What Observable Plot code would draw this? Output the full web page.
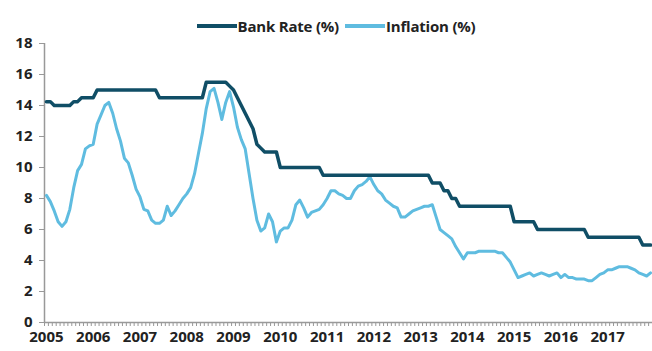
<!DOCTYPE html>
<html>
<head>
<meta charset="utf-8">
<script src="https://cdn.jsdelivr.net/npm/d3@7"></script>
<script src="https://cdn.jsdelivr.net/npm/@observablehq/plot@0.6"></script>
<style>
  html, body { margin: 0; padding: 0; background: #fff; }
  #wrap { position: relative; width: 652px; height: 351px; font-family: "Open Sans", sans-serif; }
  #legend { position: absolute; top: 16px; left: 0; width: 632px; padding-left: 20px; display: flex; justify-content: center; align-items: center; font-weight: bold; font-size: 15px; color: #222; letter-spacing: -0.2px; }
  #legend .sw { display: inline-block; width: 40px; height: 4px; margin-right: 1px; }
  #legend .item { display: flex; align-items: center; margin: 0 3px; }
</style>
</head>
<body>
<div id="wrap">
  <div id="legend"></div>
  <div id="chart"></div>
</div>
<script>
const seriesNames = ["Bank Rate (%)", "Inflation (%)"];
const seriesColors = ["#104e66", "#5fbce0"];
const yearLabels = ["2005","2006","2007","2008","2009","2010","2011","2012","2013","2014","2015","2016","2017"];
const yTicks = [0, 2, 4, 6, 8, 10, 12, 14, 16, 18];

// Monthly values, Jan 2005 .. Dec 2017
const bankRate = [
  14.25,14.25,14.0,14.0,14.0,14.0,14.0,14.25,14.25,14.5,14.5,14.5,
  14.5,15.0,15.0,15.0,15.0,15.0,15.0,15.0,15.0,15.0,15.0,15.0,
  15.0,15.0,15.0,15.0,15.0,14.5,14.5,14.5,14.5,14.5,14.5,14.5,
  14.5,14.5,14.5,14.5,14.5,15.5,15.5,15.5,15.5,15.5,15.5,15.25,
  15.0,14.5,14.0,13.5,13.0,12.5,11.5,11.25,11.0,11.0,11.0,11.0,
  10.0,10.0,10.0,10.0,10.0,10.0,10.0,10.0,10.0,10.0,10.0,9.5,
  9.5,9.5,9.5,9.5,9.5,9.5,9.5,9.5,9.5,9.5,9.5,9.5,
  9.5,9.5,9.5,9.5,9.5,9.5,9.5,9.5,9.5,9.5,9.5,9.5,
  9.5,9.5,9.5,9.0,9.0,9.0,8.5,8.5,8.0,8.0,7.5,7.5,
  7.5,7.5,7.5,7.5,7.5,7.5,7.5,7.5,7.5,7.5,7.5,7.5,
  6.5,6.5,6.5,6.5,6.5,6.5,6.0,6.0,6.0,6.0,6.0,6.0,
  6.0,6.0,6.0,6.0,6.0,6.0,6.0,5.5,5.5,5.5,5.5,5.5,
  5.5,5.5,5.5,5.5,5.5,5.5,5.5,5.5,5.5,5.0,5.0,5.0
];
const inflation = [
  8.2,7.8,7.2,6.5,6.2,6.5,7.3,8.7,9.8,10.2,11.2,11.4,
  11.5,12.8,13.4,14.0,14.2,13.5,12.5,11.7,10.6,10.3,9.5,8.6,
  8.1,7.3,7.2,6.6,6.4,6.4,6.6,7.5,6.9,7.2,7.6,8.0,
  8.3,8.7,9.6,10.9,12.2,13.8,14.9,15.1,14.2,13.1,14.2,14.9,
  13.9,12.6,11.8,11.2,9.6,8.0,6.6,5.9,6.1,7.0,6.5,5.2,
  5.9,6.1,6.1,6.6,7.6,7.9,7.4,6.8,7.1,7.2,7.3,7.6,
  8.0,8.5,8.5,8.3,8.2,8.0,8.0,8.5,8.8,8.9,9.1,9.4,
  8.9,8.5,8.3,7.9,7.7,7.5,7.4,6.8,6.8,7.0,7.2,7.3,
  7.4,7.5,7.5,7.6,6.8,6.0,5.8,5.6,5.4,4.9,4.5,4.1,
  4.5,4.5,4.5,4.6,4.6,4.6,4.6,4.6,4.5,4.5,4.2,3.9,
  3.4,2.9,3.0,3.1,3.2,3.0,3.1,3.2,3.1,3.0,3.1,3.2,
  2.9,3.1,2.9,2.9,2.8,2.8,2.8,2.7,2.7,2.9,3.1,3.2,
  3.4,3.4,3.5,3.6,3.6,3.6,3.5,3.4,3.2,3.1,3.0,3.2
];

const months = d3.range(bankRate.length);
const monthBounds = d3.range(-0.5, bankRate.length, 1);
const yearPos = yearLabels.map((y, k) => k * 12);

const rows = [];
months.forEach(i => rows.push({i, v: bankRate[i], s: seriesNames[0]}));
months.forEach(i => rows.push({i, v: inflation[i], s: seriesNames[1]}));

// legend
const legend = document.getElementById("legend");
seriesNames.forEach((n, k) => {
  const it = document.createElement("span");
  it.className = "item";
  it.innerHTML = `<span class="sw" style="background:${seriesColors[k]}"></span><span>${n}</span>`;
  legend.appendChild(it);
});

const font = "Open Sans, sans-serif";
const chart = Plot.plot({
  width: 652,
  height: 351,
  marginLeft: 44,
  marginRight: 0,
  marginTop: 43,
  marginBottom: 29,
  style: {fontFamily: font, fontSize: "14px", fontWeight: "bold", color: "#222", background: "#fff"},
  x: {domain: [-0.5, bankRate.length - 0.5], axis: null},
  y: {domain: [0, 18], axis: null},
  color: {domain: seriesNames, range: seriesColors},
  marks: [
    Plot.axisY(yTicks, {label: null, tickSize: 5, tickPadding: 7, stroke: "#999", fill: "#222", fontWeight: "bold", fontSize: 15}),
    Plot.axisX(monthBounds, {label: null, tickSize: 4, tickFormat: null, stroke: "#999", text: null}),
    Plot.axisX(yearPos, {label: null, tickSize: 0, tickPadding: 9, tickFormat: (d) => yearLabels[d / 12], fill: "#222", fontWeight: "bold", fontSize: 15}),
    Plot.ruleX([-0.5], {stroke: "#999", strokeWidth: 1.5}),
    Plot.ruleY([0], {stroke: "#999", strokeWidth: 1.5}),
    Plot.line(rows.filter(d => d.s === seriesNames[1]), {x: "i", y: "v", stroke: "s", strokeWidth: 3, curve: "linear"}),
    Plot.line(rows.filter(d => d.s === seriesNames[0]), {x: "i", y: "v", stroke: "s", strokeWidth: 3.5, curve: "linear"})
  ]
});
document.getElementById("chart").appendChild(chart);
</script>
</body>
</html>
